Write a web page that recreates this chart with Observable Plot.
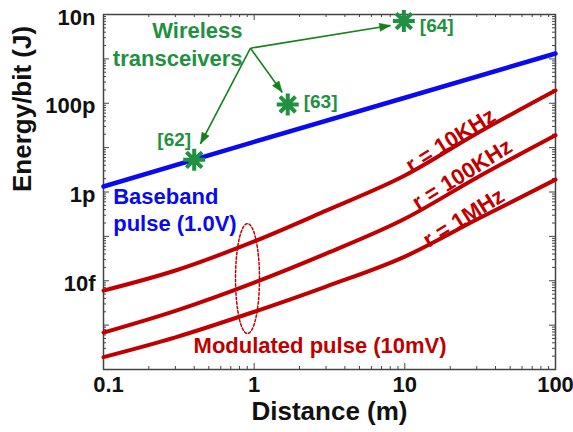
<!DOCTYPE html>
<html>
<head>
<meta charset="utf-8">
<script src="https://cdn.jsdelivr.net/npm/d3@7"></script>
<script src="https://cdn.jsdelivr.net/npm/@observablehq/plot@0.6"></script>
<style>
  body { margin: 0; background: #fff; }
  #chart { width: 573px; height: 432px; }
</style>
</head>
<body>
<div id="chart"></div>
<script>
// Energy per bit versus link distance (log–log)
const distance = [0.1, 0.3, 1, 3, 10, 30, 100];
const modulated10k  = [6.0e-15, 1.7e-14, 7.7e-14, 3.8e-13, 2.35e-12, 2.08e-11, 1.94e-10];
const modulated100k = [6.8e-16, 2.1e-15, 9.1e-15, 4.1e-14, 2.5e-13, 2.1e-12, 1.9e-11];
const modulated1m   = [1.9e-16, 5.3e-16, 2.0e-15, 7.4e-15, 3.5e-14, 2.4e-13, 1.9e-12];

const basebandDistance = [0.1, 1, 10, 100];
const baseband = [1.33e-12, 1.35e-11, 1.33e-10, 1.32e-9];

// Published wireless transceivers
const refLabels = ["[62]", "[63]", "[64]"];
const refDistance = [0.40, 1.67, 9.85];
const refEnergy = [5.3e-12, 9.4e-11, 7.1e-9];

// Tick values and labels
const xTickValues = [0.1, 1, 10, 100];
const xTickLabels = ["0.1", "1", "10", "100"];
const yTickValues = [1e-8, 1e-10, 1e-12, 1e-14];
const yTickLabels = ["10n", "100p", "1p", "10f"];

const W = 573, H = 432;
const mL = 103, mR = 18, mT = 14, mB = 63;
const frameW = W - mL - mR, frameH = H - mT - mB;
const xDomain = [0.1, 100], yDomain = [1e-16, 1e-8];

const RED = "#c00000", BLUE = "#0a0af0", GREEN = "#1f9140", ARROW = "#16801c";

// tidy tables
const modulated = [
  ...distance.map((d, i) => ({d, e: modulated10k[i], r: "10KHz"})),
  ...distance.map((d, i) => ({d, e: modulated100k[i], r: "100KHz"})),
  ...distance.map((d, i) => ({d, e: modulated1m[i], r: "1MHz"}))
];
const base = basebandDistance.map((d, i) => ({d, e: baseband[i]}));
const refs = refLabels.map((t, i) => ({t, d: refDistance[i], e: refEnergy[i]}));

// callout arrows from the "Wireless transceivers" label
const arrowFrom = {d: 0.945, e: 1.74e-9};
const arrowTips = [
  {d: 0.44, e: 1.22e-11},
  {d: 1.535, e: 1.77e-10},
  {d: 8.04, e: 5.65e-9}
];

// the same scales the plot uses, to orient the filled arrowheads on screen
const sx = Plot.scale({x: {type: "log", domain: xDomain, range: [mL, W - mR]}});
const sy = Plot.scale({y: {type: "log", domain: yDomain, range: [H - mB, mT]}});
const arrowHeads = arrowTips.map(p => {
  const dx = sx.apply(p.d) - sx.apply(arrowFrom.d);
  const dy = sy.apply(p.e) - sy.apply(arrowFrom.e);
  return {...p, angle: Math.atan2(dx, -dy) * 180 / Math.PI};
});

// filled arrowhead with its tip at the origin, pointing up
const headSymbol = {
  draw(context) {
    context.moveTo(0, 0);
    context.lineTo(-4, 11);
    context.lineTo(4, 11);
    context.closePath();
  }
};

// dashed ellipse grouping the modulated curves near 1 m (in log space)
const ellipseCenter = {d: 0.903, e: 1.12e-14};
const ellipseHalfDecX = 0.0796, ellipseHalfDecY = 1.239;
const ellipse = d3.range(0, 73).map(k => {
  const t = (k / 72) * 2 * Math.PI;
  return {
    d: ellipseCenter.d * Math.pow(10, ellipseHalfDecX * Math.cos(t)),
    e: ellipseCenter.e * Math.pow(10, ellipseHalfDecY * Math.sin(t))
  };
});

// minor/major ticks for log axes
const xMajor = xTickValues;
const xMinor = [];
for (const dec of [0.1, 1, 10]) for (let m = 2; m <= 9; m++) xMinor.push(dec * m);
const yMajor = d3.range(-16, -7).map(p => Math.pow(10, p));
const yMinor = [];
for (let p = -16; p < -8; p++) for (let m = 2; m <= 9; m++) yMinor.push(m * Math.pow(10, p));

// eight-armed asterisk marker
const asterisk8 = {
  draw(context, size) {
    const r = Math.sqrt(size / Math.PI);
    for (let k = 0; k < 4; k++) {
      const a = (k * Math.PI) / 4;
      context.moveTo(r * Math.cos(a), r * Math.sin(a));
      context.lineTo(-r * Math.cos(a), -r * Math.sin(a));
    }
  }
};

const xLabel = new Map(xTickValues.map((v, i) => [v, xTickLabels[i]]));
const yLabel = new Map(yTickValues.map((v, i) => [v, yTickLabels[i]]));

const MAJ = 6, MIN = 3;
const tickStyle = {stroke: "#444", strokeWidth: 1};
const bold = {fontWeight: "bold"};
const xAxisText = {tickFormat: d => xLabel.get(d), tickSize: 0, tickPadding: 7, fontSize: 22, label: null};

const chart = Plot.plot({
  width: W,
  height: H,
  marginLeft: mL,
  marginRight: mR,
  marginTop: mT,
  marginBottom: mB,
  style: {fontFamily: "'Liberation Sans', Arial, sans-serif", fontWeight: "bold", background: "#fff", color: "#111"},
  x: {type: "log", domain: xDomain},
  y: {type: "log", domain: yDomain},
  marks: [
    // inward ticks on all four sides
    Plot.tickX(xMajor, {x: d => d, insetTop: frameH - MAJ, ...tickStyle}),
    Plot.tickX(xMinor, {x: d => d, insetTop: frameH - MIN, ...tickStyle}),
    Plot.tickX(xMajor, {x: d => d, insetBottom: frameH - MAJ, ...tickStyle}),
    Plot.tickX(xMinor, {x: d => d, insetBottom: frameH - MIN, ...tickStyle}),
    Plot.tickY(yMajor, {y: d => d, insetRight: frameW - MAJ, ...tickStyle}),
    Plot.tickY(yMinor, {y: d => d, insetRight: frameW - MIN, ...tickStyle}),
    Plot.tickY(yMajor, {y: d => d, insetLeft: frameW - MAJ, ...tickStyle}),
    Plot.tickY(yMinor, {y: d => d, insetLeft: frameW - MIN, ...tickStyle}),
    Plot.frame({stroke: "#444", strokeWidth: 1.5}),

    // tick labels (the first one nudged clear of the corner)
    Plot.axisX({ticks: xTickValues.slice(0, 1), ...xAxisText, dx: 5}),
    Plot.axisX({ticks: xTickValues.slice(1), ...xAxisText}),
    Plot.axisY({ticks: yTickValues, tickFormat: d => yLabel.get(d), tickSize: 0, tickPadding: 8, fontSize: 22, label: null, dy: 3}),

    // axis titles
    Plot.text(["Distance (m)"], {frameAnchor: "bottom", dy: 42, fontSize: 26, ...bold, fill: "#111", lineAnchor: "middle"}),
    Plot.text(["Energy/bit (J)"], {frameAnchor: "left", dx: -81, rotate: -90, fontSize: 26, ...bold, fill: "#111", lineAnchor: "middle"}),

    // curves
    Plot.line(modulated, {x: "d", y: "e", z: "r", stroke: RED, strokeWidth: 4, curve: "monotone-x"}),
    Plot.line(base, {x: "d", y: "e", stroke: BLUE, strokeWidth: 4.5}),
    Plot.line(ellipse, {x: "d", y: "e", stroke: RED, strokeWidth: 1.5, strokeDasharray: "2.5,2", curve: "linear-closed"}),

    // arrows and reference points
    Plot.link(arrowTips, {x1: () => arrowFrom.d, y1: () => arrowFrom.e, x2: "d", y2: "e", stroke: ARROW, strokeWidth: 1.6}),
    Plot.dot(arrowHeads, {x: "d", y: "e", symbol: headSymbol, rotate: "angle", fill: ARROW, stroke: ARROW, strokeWidth: 0.5, r: 5}),
    Plot.dot(refs, {x: "d", y: "e", symbol: asterisk8, r: 11, stroke: GREEN, strokeWidth: 4, fill: "none"}),
    Plot.text(refs.slice(0, 1), {x: "d", y: "e", text: "t", dx: -20, dy: -20, fill: GREEN, fontSize: 19, ...bold}),
    Plot.text(refs.slice(1, 2), {x: "d", y: "e", text: "t", dx: 16, dy: -3, fill: GREEN, fontSize: 19, ...bold, textAnchor: "start"}),
    Plot.text(refs.slice(2, 3), {x: "d", y: "e", text: "t", dx: 16, dy: 5, fill: GREEN, fontSize: 19, ...bold, textAnchor: "start"}),

    // annotations
    Plot.text(["Wireless\ntransceivers"], {x: 0.837, y: 2.3e-9, textAnchor: "end", lineAnchor: "middle", lineHeight: 1.3, fill: GREEN, fontSize: 22, ...bold}),
    Plot.text(["Baseband\npulse (1.0V)"], {x: 0.116, y: 4.2e-13, textAnchor: "start", lineAnchor: "middle", lineHeight: 1.26, fill: BLUE, fontSize: 22, ...bold}),
    Plot.text(["Modulated pulse (10mV)"], {x: 0.396, y: 3.33e-16, textAnchor: "start", lineAnchor: "middle", fill: RED, fontSize: 22, ...bold}),
    Plot.text(
      [
        {t: "r = 10KHz", d: 20.1, e: 1.45e-11},
        {t: "r = 100KHz", d: 24.0, e: 2.48e-12},
        {t: "r = 1MHz", d: 24.6, e: 2.6e-13}
      ],
      {x: "d", y: "e", text: "t", rotate: -32, fill: RED, fontSize: 22, ...bold, lineAnchor: "middle"}
    )
  ]
});

document.getElementById("chart").appendChild(chart);
</script>
</body>
</html>
